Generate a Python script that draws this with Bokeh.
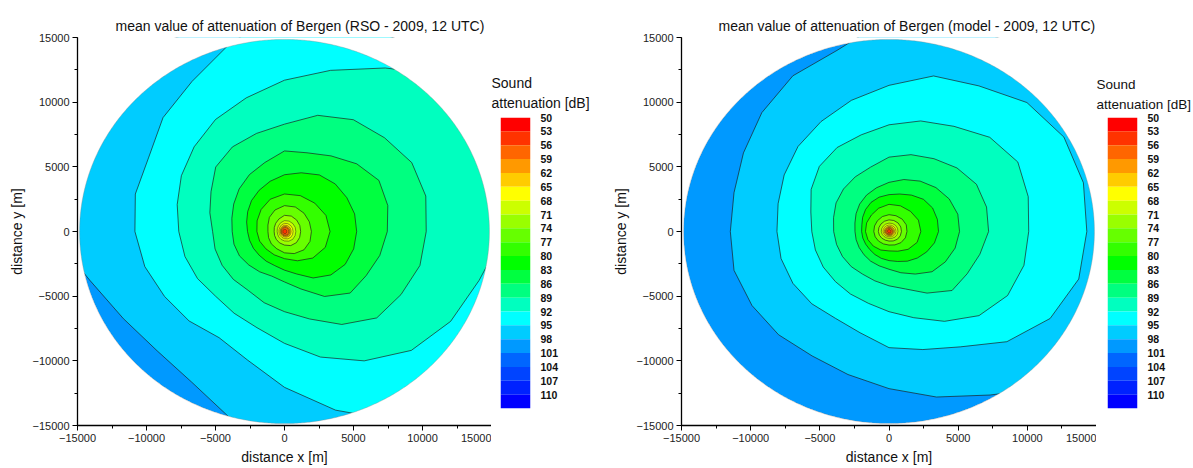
import numpy as np
from bokeh.plotting import figure
from bokeh.layouts import row
from bokeh.models import (ColumnDataSource, Range1d, SingleIntervalTicker,
                          FixedTicker, LinearAxis)
from bokeh.embed import file_html
from bokeh.resources import INLINE

# ---------------------------------------------------------------- data
# bearings (deg, counter-clockwise from east) at which the isoline radii were read
BEARINGS_OUTER_DEG = [0, 15, 30, 45, 60, 75, 90, 105, 120, 135, 150, 165,
                      180, 195, 210, 225, 240, 255, 270, 285, 300, 315, 330, 345]
BEARINGS_INNER_DEG = [0, 22.5, 45, 67.5, 90, 112.5, 135, 157.5,
                      180, 202.5, 225, 247.5, 270, 292.5, 315, 337.5]
DOMAIN_RADIUS_M = 14850

SCALE_LEVELS_DB = [50, 53, 56, 59, 62, 65, 68, 71, 74, 77, 80,
                   83, 86, 89, 92, 95, 98, 101, 104, 107, 110]
BAND_COLORS = ["#FF0000", "#FF3300", "#FF6600", "#FF9900", "#FFCC00", "#FFFF00",
               "#CCFF00", "#99FF00", "#66FF00", "#33FF00", "#00FF00",
               "#00FF40", "#00FF80", "#00FFBF", "#00FFFF", "#00CCFF",
               "#0099FF", "#0066FF", "#0044FF", "#0022FF", "#0000FF"]

# radius (m) of each isoline along each bearing (values > domain radius: isoline outside domain)
RSO_LEVELS_DB = [98, 95, 92, 89, 86, 83, 80, 77, 74, 71, 68, 65, 62, 59, 56]
RSO_98 = [17000, 17000, 17000, 17000, 17000, 17000, 17000, 17000, 17000, 17000, 17000, 17000,
          17000, 14600, 13480, 13050, 13450, 15000, 17000, 17000, 17000, 17000, 17000, 17000]
RSO_95 = [17000, 17000, 17000, 17000, 17000, 17000, 17000, 15100, 13400, 12450, 11380, 11190,
          10840, 10480, 10040, 9780, 9480, 10300, 12050, 14300, 17000, 17000, 17000, 17000]
RSO_92 = [16000, 17000, 17000, 17000, 14600, 12900, 11700, 10700, 10000, 9260, 8630, 8050,
          7660, 7470, 7280, 7070, 7300, 7700, 8650, 10050, 11550, 13000, 13900, 14600]
RSO_89 = [10270, 10600, 10650, 10250, 9980, 9300, 8300, 7850, 7550, 7050, 6150, 5600,
          5210, 5210, 5220, 5240, 5260, 5700, 6200, 7000, 8300, 9450, 9750, 10160]
RSO_86 = [7450, 7750, 7900, 7400, 6750, 6300, 6230, 5520, 5080, 4650, 4250, 3950,
          3790, 3790, 3770, 3660, 3600, 3570, 3900, 4600, 5800, 6730, 6830, 7150]
RSO_83 = [5230, 5260, 5220, 5200, 5050, 4700, 4390, 4020, 3680, 3380, 3080, 2840,
          2680, 2620, 2600, 2595, 2650, 2730, 2990, 3400, 4150, 4750, 5080, 5190]
RSO_80 = [3300, 3250, 3100, 3000, 2900, 2700, 2400, 2150, 2000, 1950, 1900, 1950, 2100, 2450, 2900, 3200]
RSO_77 = [1950, 1950, 2000, 2050, 2000, 1800, 1550, 1300, 1200, 1250, 1350, 1450, 1650, 1850, 2000, 2000]
RSO_74 = [1170, 1200, 1250, 1290, 1250, 1050, 900, 800, 750, 780, 850, 950, 1050, 1180, 1220, 1190]
RSO_71 = [820, 840, 860, 870, 840, 730, 620, 560, 530, 540, 590, 660, 730, 810, 850, 830]
RSO_68 = [620, 630, 640, 650, 630, 550, 470, 420, 400, 410, 440, 490, 550, 610, 640, 630]
RSO_65 = [480, 490, 500, 505, 490, 430, 370, 330, 315, 320, 345, 385, 430, 470, 495, 485]
RSO_62 = [390, 395, 400, 405, 395, 345, 300, 270, 255, 260, 280, 310, 345, 380, 400, 395]
RSO_59 = [310, 315, 320, 325, 315, 280, 245, 220, 210, 215, 230, 255, 280, 305, 320, 315]
RSO_56 = [170, 175, 180, 180, 175, 160, 140, 125, 120, 125, 135, 150, 160, 170, 180, 175]

MODEL_LEVELS_DB = [98, 95, 92, 89, 86, 83, 80, 77, 74, 71, 68, 65, 62, 59, 56]
MODEL_98 = [17000, 17000, 17000, 17000, 17000, 17000, 16500, 14500, 13900, 13000, 12150, 11600,
            11470, 11600, 11440, 11290, 11110, 11450, 12150, 13250, 14600, 17000, 17000, 17000]
MODEL_95 = [14300, 14550, 14600, 14100, 13000, 12450, 11300, 10500, 9820, 9300, 8750, 8300,
            8100, 8080, 8020, 7900, 7750, 8100, 8980, 9450, 10300, 12050, 13450, 14200]
MODEL_92 = [10100, 10420, 10750, 10300, 9390, 8850, 8250, 7740, 7500, 7120, 6500, 5850,
            5580, 5510, 5490, 5480, 5580, 5750, 6200, 6900, 8020, 9200, 9900, 10100]
MODEL_89 = [7200, 7300, 7300, 6950, 6500, 6150, 5750, 5150, 4880, 4650, 4420, 4150,
            4000, 3920, 3880, 3850, 3810, 3950, 4200, 4600, 5500, 6450, 6530, 6800]
MODEL_86 = [5100, 5150, 5030, 4800, 4500, 4160, 3800, 3500, 3250, 3000, 2750, 2550,
            2460, 2460, 2490, 2550, 2650, 2750, 2920, 3300, 3800, 4400, 4700, 4950]
MODEL_83 = [3580, 3620, 3640, 3520, 3250, 3000, 2850, 2750, 2600, 2400, 2200, 2030,
            1980, 1960, 1950, 1970, 2050, 2150, 2250, 2400, 2650, 2900, 3150, 3400]
MODEL_80 = [2300, 2300, 2200, 2150, 2100, 1950, 1800, 1750, 1700, 1650, 1600, 1550, 1500, 1650, 1950, 2200]
MODEL_77 = [1300, 1350, 1350, 1320, 1300, 1250, 1180, 1130, 1100, 1080, 1060, 1040, 1050, 1120, 1220, 1280]
MODEL_74 = [900, 920, 930, 920, 900, 860, 820, 790, 770, 750, 730, 720, 740, 790, 850, 880]
MODEL_71 = [650, 665, 670, 665, 650, 620, 590, 570, 555, 540, 525, 520, 535, 570, 615, 635]
MODEL_68 = [500, 510, 515, 510, 500, 475, 455, 440, 430, 415, 405, 400, 410, 440, 470, 490]
MODEL_65 = [400, 408, 412, 408, 400, 380, 365, 350, 345, 332, 325, 320, 330, 350, 375, 390]
MODEL_62 = [320, 326, 330, 326, 320, 305, 290, 280, 275, 265, 260, 255, 262, 280, 300, 312]
MODEL_59 = [250, 255, 258, 255, 250, 238, 227, 220, 215, 208, 203, 200, 205, 220, 235, 244]
MODEL_56 = [150, 155, 160, 155, 150, 140, 130, 120, 115, 112, 110, 108, 112, 120, 135, 145]

RSO_RADII = [RSO_98, RSO_95, RSO_92, RSO_89, RSO_86, RSO_83, RSO_80, RSO_77,
             RSO_74, RSO_71, RSO_68, RSO_65, RSO_62, RSO_59, RSO_56]
MODEL_RADII = [MODEL_98, MODEL_95, MODEL_92, MODEL_89, MODEL_86, MODEL_83, MODEL_80, MODEL_77,
               MODEL_74, MODEL_71, MODEL_68, MODEL_65, MODEL_62, MODEL_59, MODEL_56]

FONT = "Liberation Sans"
H = 468


def contour_source(levels, radii):
    xs, ys, colors, widths = [], [], [], []
    for lev, r in zip(levels, radii):
        bearings = BEARINGS_OUTER_DEG if len(r) == len(BEARINGS_OUTER_DEG) else BEARINGS_INNER_DEG
        th = np.radians(bearings)
        r = np.asarray(r, dtype=float)
        xs.append(list(r * np.cos(th)))
        ys.append(list(r * np.sin(th)))
        colors.append(BAND_COLORS[SCALE_LEVELS_DB.index(lev - 3)])
        widths.append(0.8 if lev >= 74 else 0.55)
    return ColumnDataSource(dict(xs=xs, ys=ys, color=colors, lw=widths, level=levels))


def make_panel(title, levels, radii, width, left_border, title_offset):
    p = figure(width=width, height=H,
               x_range=Range1d(-15000, 15000), y_range=Range1d(-15000, 15000),
               min_border_left=left_border, min_border_right=0,
               min_border_top=37, min_border_bottom=43,
               toolbar_location=None, output_backend="svg",
               x_axis_label="distance x [m]", y_axis_label="distance y [m]")
    p.frame_align = False
    p.grid.visible = False
    p.outline_line_color = None
    p.background_fill_color = "white"
    p.border_fill_color = "white"

    th = np.linspace(0, 2 * np.pi, 721)
    cx = DOMAIN_RADIUS_M * np.cos(th)
    cy = DOMAIN_RADIUS_M * np.sin(th)
    base_color = BAND_COLORS[SCALE_LEVELS_DB.index(levels[0])]
    p.patch(cx, cy, fill_color=base_color, line_color=None)

    src = contour_source(levels, radii)
    p.patches("xs", "ys", source=src, fill_color="color",
              line_color="#1c1c1c", line_width="lw", line_alpha=0.85)

    big = 20000
    mx = [[[[-big, big, big, -big], list(cx[::-1])]]]
    my = [[[[-big, -big, big, big], list(cy[::-1])]]]
    p.multi_polygons(xs=mx, ys=my, fill_color="white", line_color=None)
    p.line(cx, cy, line_color="#8a8a8a", line_width=0.6, line_alpha=0.6)

    for ax in (p.xaxis[0], p.yaxis[0]):
        ax.ticker = SingleIntervalTicker(interval=5000, num_minor_ticks=2)
        ax.axis_line_color = "black"
        ax.axis_line_width = 1.3
        ax.major_tick_out = 5
        ax.major_tick_in = 0
        ax.minor_tick_out = 3
        ax.minor_tick_in = 0
        ax.major_tick_line_color = "black"
        ax.minor_tick_line_color = "black"
        ax.major_label_text_font = FONT
        ax.major_label_text_font_size = "11px"
        ax.major_label_text_color = "#222222"
        ax.axis_label_text_font = FONT
        ax.axis_label_text_font_size = "14px"
        ax.axis_label_text_font_style = "normal"
        ax.axis_label_text_color = "#111111"
        ax.major_label_standoff = 3
        ax.axis_label_standoff = 4

    p.title.text = title
    p.title.text_font = FONT
    p.title.text_font_size = "14px"
    p.title.text_font_style = "normal"
    p.title.text_color = "#111111"
    p.title.align = "left"
    p.title.offset = title_offset
    p.title.standoff = 8
    return p


def make_colorbar(width, left_border, title_offset, title_size):
    cb = figure(width=width, height=H,
                x_range=Range1d(0, 1), y_range=Range1d(113, 50),
                x_axis_type=None, y_axis_type=None,
                min_border_left=left_border, min_border_right=width - left_border - 30,
                min_border_top=117, min_border_bottom=H - 117 - 291,
                toolbar_location=None, output_backend="svg")
    cb.frame_align = False
    cb.outline_line_color = None
    src = ColumnDataSource(dict(top=SCALE_LEVELS_DB,
                                bottom=[v + 3 for v in SCALE_LEVELS_DB],
                                color=BAND_COLORS))
    cb.quad(left=0, right=1, top="top", bottom="bottom", fill_color="color",
            line_color=None, source=src)
    ax = LinearAxis(ticker=FixedTicker(ticks=SCALE_LEVELS_DB))
    ax.axis_line_color = None
    ax.major_tick_line_color = None
    ax.minor_tick_line_color = None
    ax.major_label_standoff = 4
    ax.major_label_text_font = FONT
    ax.major_label_text_font_size = "10.5px"
    ax.major_label_text_font_style = "bold"
    ax.major_label_text_color = "#111111"
    cb.add_layout(ax, "right")

    t = cb.title
    t.text = "Sound\nattenuation [dB]"
    t.text_font = FONT
    t.text_font_size = title_size
    t.text_font_style = "normal"
    t.text_color = "#111111"
    t.text_line_height = 1.3
    t.align = "left"
    t.offset = title_offset
    t.standoff = 12
    return cb


p1 = make_panel("mean value of attenuation of Bergen (RSO - 2009, 12 UTC)",
                RSO_LEVELS_DB, RSO_RADII, width=491, left_border=77, title_offset=38)
c1 = make_colorbar(width=109, left_border=9, title_offset=-9, title_size="14px")
p2 = make_panel("mean value of attenuation of Bergen (model - 2009, 12 UTC)",
                MODEL_LEVELS_DB, MODEL_RADII, width=496, left_border=81, title_offset=37)
c2 = make_colorbar(width=97, left_border=11, title_offset=-11, title_size="13.5px")

layout = row(p1, c1, p2, c2, spacing=0)
open("out.html", "w").write(file_html(layout, INLINE))
